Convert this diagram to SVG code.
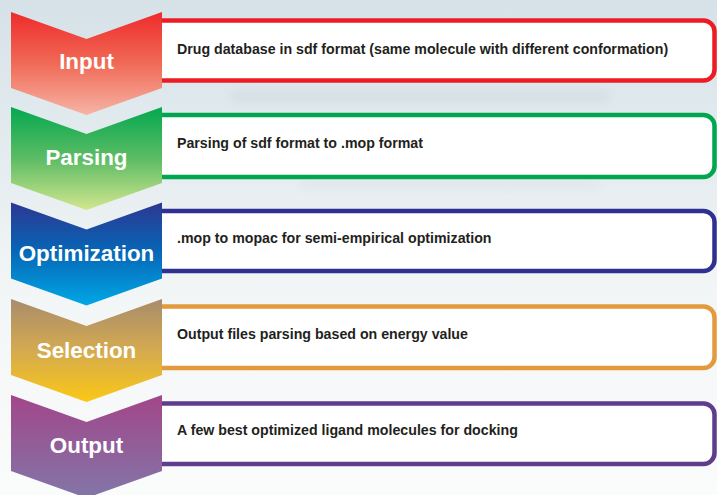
<svg xmlns="http://www.w3.org/2000/svg" width="717" height="495" viewBox="0 0 717 495">
  <style>
    .box { fill: #ffffff; stroke-width: 4.5; }
    .label { font-family: "Liberation Sans", Arial, sans-serif; font-weight: bold; font-size: 22.4px; fill: #ffffff; text-anchor: middle; }
    .desc { font-family: "Liberation Sans", Arial, sans-serif; font-weight: bold; font-size: 14.2px; fill: #231f20; }
  </style>
  <defs>
    <linearGradient id="bg" x1="0" y1="0" x2="0" y2="1">
      <stop offset="0" stop-color="#d6e2e8"/>
      <stop offset="0.35" stop-color="#e6edf0"/>
      <stop offset="0.6" stop-color="#f3f6f7"/>
      <stop offset="1" stop-color="#fafbfb"/>
    </linearGradient>
    <linearGradient id="gInput" x1="0" y1="0" x2="0" y2="1">
      <stop offset="0" stop-color="#ee2b2b"/>
      <stop offset="0.5" stop-color="#f06a56"/>
      <stop offset="1" stop-color="#f6b4a6"/>
    </linearGradient>
    <linearGradient id="gParsing" x1="0" y1="0" x2="0" y2="1">
      <stop offset="0" stop-color="#04a850"/>
      <stop offset="0.5" stop-color="#5cbc64"/>
      <stop offset="1" stop-color="#d2e68e"/>
    </linearGradient>
    <linearGradient id="gOpt" x1="0" y1="0" x2="0" y2="1">
      <stop offset="0" stop-color="#2e3792"/>
      <stop offset="0.45" stop-color="#0863b4"/>
      <stop offset="1" stop-color="#00a8e6"/>
    </linearGradient>
    <linearGradient id="gSel" x1="0" y1="0" x2="0" y2="1">
      <stop offset="0" stop-color="#a88c6c"/>
      <stop offset="0.5" stop-color="#d4aa50"/>
      <stop offset="1" stop-color="#fbc815"/>
    </linearGradient>
    <linearGradient id="gOut" x1="0" y1="0" x2="0" y2="1">
      <stop offset="0" stop-color="#a2468a"/>
      <stop offset="1" stop-color="#8276a8"/>
    </linearGradient>
    <path id="chev" d="M11,0 L86.5,27 L162,0 L162,76 L86.5,103 L11,76 Z"/>
    <filter id="haze" x="-10%" y="-50%" width="120%" height="200%">
      <feGaussianBlur stdDeviation="4"/>
    </filter>
  </defs>

  <!-- background -->
  <rect x="0" y="0" width="717" height="495" fill="url(#bg)"/>
  <g filter="url(#haze)" opacity="0.3">
    <rect x="230" y="90" width="380" height="13" fill="#c4d0d6"/>
    <rect x="300" y="180" width="300" height="10" fill="#d4dde2"/>
  </g>

  <!-- step rows: detail box first, then the chevron over its left end -->
  <g id="input">
    <g transform="translate(0,12)">
      <rect class="box" x="150" y="8.5" width="564.5" height="60" rx="11" stroke="#ed1c24"/>
      <use href="#chev" fill="url(#gInput)"/>
      <text class="label" x="86.5" y="57">Input</text>
      <text class="desc" x="177" y="42">Drug database in sdf format (same molecule with different conformation)</text>
    </g>
  </g>

  <g id="parsing">
    <g transform="translate(0,107)">
      <rect class="box" x="150" y="8" width="564.5" height="62" rx="11" stroke="#00a650"/>
      <use href="#chev" fill="url(#gParsing)"/>
      <text class="label" x="86.5" y="58">Parsing</text>
      <text class="desc" x="177" y="41">Parsing of sdf format to .mop format</text>
    </g>
  </g>

  <g id="optimization">
    <g transform="translate(0,202.5)">
      <rect class="box" x="150" y="8.5" width="564.5" height="60" rx="11" stroke="#2e3192"/>
      <use href="#chev" fill="url(#gOpt)"/>
      <text class="label" x="86.5" y="58">Optimization</text>
      <text class="desc" x="177" y="40">.mop to mopac for semi-empirical optimization</text>
    </g>
  </g>

  <g id="selection">
    <g transform="translate(0,299)">
      <rect class="box" x="150" y="7.5" width="564.5" height="61.5" rx="11" stroke="#e29a3c"/>
      <use href="#chev" fill="url(#gSel)"/>
      <text class="label" x="86.5" y="59">Selection</text>
      <text class="desc" x="177" y="40">Output files parsing based on energy value</text>
    </g>
  </g>

  <g id="output">
    <g transform="translate(0,395)">
      <rect class="box" x="150" y="8.5" width="564.5" height="60.5" rx="11" stroke="#5f3d8c"/>
      <use href="#chev" fill="url(#gOut)"/>
      <text class="label" x="86.5" y="58">Output</text>
      <text class="desc" x="177" y="40">A few best optimized ligand molecules for docking</text>
    </g>
  </g>

  <!-- no separate connectors: the chevrons themselves carry the flow -->
  <g id="connectors"/>
</svg>
